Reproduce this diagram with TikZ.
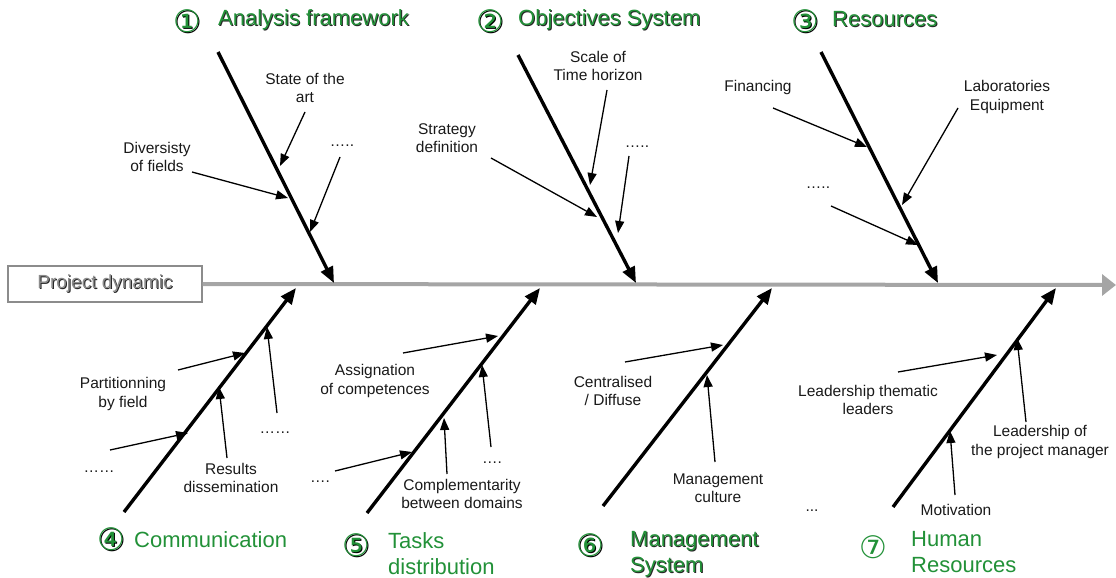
\documentclass[tikz,border=0pt]{standalone}
\usepackage{fontspec}
\setmainfont{Liberation Sans}
\newfontfamily\circfont{DejaVu Sans}
\usetikzlibrary{arrows.meta}
\definecolor{hdgreen}{RGB}{34,145,56}
\definecolor{spinegray}{RGB}{165,165,165}
\definecolor{boxgray}{RGB}{140,140,140}
\newcommand\shd[1]{\makebox[0pt][l]{\kern1pt\raisebox{-1pt}{\textcolor{black!85}{#1}}}#1}
\newcommand\shdc[1]{\makebox[0pt][l]{\kern1.4pt\raisebox{-1.4pt}{\textcolor{black}{#1}}}#1}
\begin{document}
\begin{tikzpicture}[x=1pt,y=-1pt,
  bone/.style={line width=3.4pt,-{Triangle[length=16pt,width=13pt]}},
  sub/.style={line width=1.3pt,-{Triangle[length=12pt,width=9pt]}},
  spine/.style={line width=4pt,spinegray,-{Triangle[length=14pt,width=21pt]}},
  lbl/.style={font=\fontsize{15.5}{18.5}\selectfont,align=center,inner sep=0pt,text=black!90},
  hd/.style={font=\fontsize{22}{26.5}\selectfont,text=hdgreen,align=left,inner sep=0pt},
  num/.style={font=\circfont\fontsize{31}{31}\selectfont,text=hdgreen,inner sep=0pt},
]
\useasboundingbox (0,0) rectangle (1116,578);

% ---------- spine ----------
\node[draw=boxgray,line width=1.2pt,minimum width=194pt,minimum height=36pt,
      font=\fontsize{19}{22}\selectfont,text=boxgray] (box) at (105,284) {\shd{Project dynamic}};
\coordinate (spineend) at (1116,285);
\draw[spine] (box.east) -- (spineend);

% ---------- headings ----------
\node[num] (n1) at (187,22) {\shdc{①}};
\node[hd,anchor=west] (h1) at (218,20) {\shd{Analysis framework}};
\node[num] (n2) at (490,22) {\shdc{②}};
\node[hd,anchor=west] (h2) at (518,20) {\shd{Objectives System}};
\node[num] (n3) at (805,22) {\shdc{③}};
\node[hd,anchor=west] (h3) at (832,20) {\shd{Resources}};

\node[num] (n4) at (111,540) {\shdc{④}};
\node[hd,anchor=west] (h4) at (134,540) {Communication};
\node[num] (n5) at (356,546) {\shdc{⑤}};
\node[hd,anchor=north west] (h5) at (388,532) {Tasks\\distribution};
\node[num] (n6) at (590,546) {\shdc{⑥}};
\node[hd,anchor=north west] (h6) at (630,531) {\shd{Management}\\\shd{System}};
\node[num] (n7) at (873,547) {⑦};
\node[hd,anchor=north west] (h7) at (911,531) {Human\\Resources};

% ---------- bones ----------
\coordinate (b1s) at (218,52);  \coordinate (b1e) at (334,283);
\coordinate (b2s) at (518,55);  \coordinate (b2e) at (636,283);
\coordinate (b3s) at (821,52);  \coordinate (b3e) at (938,283);
\coordinate (b4s) at (124,512); \coordinate (b4e) at (296,288);
\coordinate (b5s) at (367,513); \coordinate (b5e) at (540,288);
\coordinate (b6s) at (603,506); \coordinate (b6e) at (772,288);
\coordinate (b7s) at (893,507); \coordinate (b7e) at (1056,288);
\foreach \i in {1,...,7} {\draw[bone] (b\i s) -- (b\i e);}

% ---------- labels ----------
\node[lbl] (l1a) at (305,88) {State of the\\art};
\node[lbl] (l1b) at (157,157) {Diversisty\\of fields};
\node[lbl] (l1c) at (342,146) {…..};
\node[lbl] (l2a) at (598,66) {Scale of\\Time horizon};
\node[lbl] (l2b) at (447,138) {Strategy\\definition};
\node[lbl] (l2c) at (637,147) {…..};
\node[lbl] (l3a) at (758,87) {Financing};
\node[lbl] (l3b) at (1007,97) {Laboratories\\Equipment};
\node[lbl] (l3c) at (818,188) {…..};
\node[lbl] (l4a) at (123,394) {Partitionning\\by field};
\node[lbl] (l4b) at (99,472) {……};
\node[lbl] (l4c) at (231,478) {Results\\dissemination};
\node[lbl] (l4d) at (275,433) {……};
\node[lbl] (l5a) at (375,381) {Assignation\\of competences};
\node[lbl] (l5b) at (462,494) {Complementarity\\between domains};
\node[lbl] (l5c) at (492,463) {….};
\node[lbl] (l5d) at (320,482) {….};
\node[lbl] (l6a) at (613,391) {Centralised\\/ Diffuse};
\node[lbl] (l6b) at (718,488) {Management\\culture};
\node[lbl] (l7a) at (868,400) {Leadership thematic\\leaders};
\node[lbl] (l7b) at (1040,442) {Leadership of\\the project manager};
\node[lbl] (l7c) at (956,510) {Motivation};
\node[lbl] (l7d) at (812,511) {...};

% ---------- sub arrows ----------
\coordinate (s1a) at (305,112); \coordinate (t1a) at (280,166);
\coordinate (s1b) at (192,172); \coordinate (t1b) at (288,198);
\coordinate (s1c) at (340,157); \coordinate (t1c) at (310,232);
\coordinate (s2a) at (607,90);  \coordinate (t2a) at (590,185);
\coordinate (s2b) at (491,158); \coordinate (t2b) at (597,217);
\coordinate (s2c) at (629,156); \coordinate (t2c) at (618,233);
\coordinate (s3a) at (773,108); \coordinate (t3a) at (867,147);
\coordinate (s3b) at (958,108); \coordinate (t3b) at (902,205);
\coordinate (s3c) at (831,206); \coordinate (t3c) at (918,245);
\coordinate (s4a) at (178,370); \coordinate (t4a) at (245,353);
\coordinate (s4b) at (110,450); \coordinate (t4b) at (188,433);
\coordinate (s4c) at (227,458); \coordinate (t4c) at (219,387);
\coordinate (s4d) at (277,413); \coordinate (t4d) at (267,327);
\coordinate (s5a) at (403,353); \coordinate (t5a) at (498,336);
\coordinate (s5b) at (447,474); \coordinate (t5b) at (444,418);
\coordinate (s5c) at (491,447); \coordinate (t5c) at (482,365);
\coordinate (s5d) at (335,471); \coordinate (t5d) at (412,452);
\coordinate (s6a) at (625,362); \coordinate (t6a) at (723,345);
\coordinate (s6b) at (715,462); \coordinate (t6b) at (707,375);
\coordinate (s7a) at (898,372); \coordinate (t7a) at (997,355);
\coordinate (s7b) at (1026,422); \coordinate (t7b) at (1017,338);
\coordinate (s7c) at (955,495); \coordinate (t7c) at (950,431);
\foreach \k in {1a,1b,1c,2a,2b,2c,3a,3b,3c,4a,4b,4c,4d,5a,5b,5c,5d,6a,6b,7a,7b,7c}
  {\draw[sub] (s\k) -- (t\k);}
\end{tikzpicture}
\end{document}
